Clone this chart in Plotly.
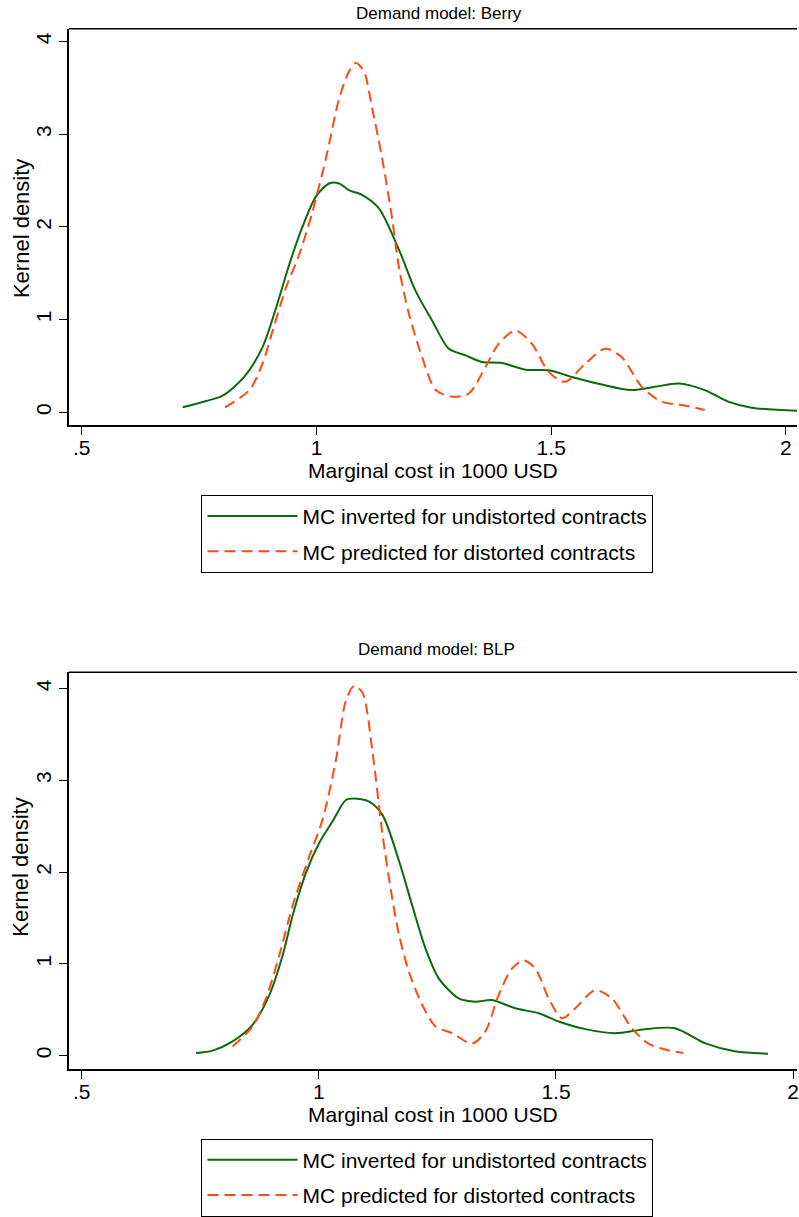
import plotly.graph_objects as go

W, H = 799, 1217

# ---------------- data ----------------
berry_inv_x = [0.715, 0.765, 0.800, 0.846, 0.885, 0.914, 0.942, 0.970, 0.999, 1.027, 1.048,
               1.069, 1.098, 1.133, 1.176, 1.211, 1.2465, 1.282, 1.3175, 1.353, 1.395, 1.445,
               1.4945, 1.544, 1.608, 1.671, 1.721, 1.771, 1.827, 1.877, 1.927, 2.03]
berry_inv_y = [0.054, 0.122, 0.179, 0.382, 0.703, 1.13, 1.595, 2.0, 2.33, 2.469, 2.47,
               2.398, 2.344, 2.20, 1.75, 1.31, 0.989, 0.685, 0.614, 0.543, 0.532, 0.46,
               0.454, 0.382, 0.30, 0.24, 0.275, 0.31, 0.24, 0.115, 0.05, 0.016]

berry_pred_x = [0.805, 0.857, 0.885, 0.9065, 0.935, 0.963, 0.9915, 1.02, 1.048, 1.0695, 1.0837,
                1.101, 1.119, 1.140, 1.161, 1.176, 1.197, 1.225, 1.254, 1.289, 1.3245, 1.36,
                1.388, 1.4237, 1.459, 1.4945, 1.53, 1.5725, 1.615, 1.650, 1.693, 1.735, 1.778, 1.827]
berry_pred_y = [0.054, 0.24, 0.525, 0.88, 1.345, 1.70, 2.166, 2.737, 3.379, 3.68, 3.77,
                3.68, 3.27, 2.737, 2.095, 1.55, 1.06, 0.596, 0.24, 0.168, 0.203, 0.489,
                0.739, 0.882, 0.739, 0.436, 0.329, 0.525, 0.685, 0.596, 0.275, 0.115, 0.079, 0.026]

blp_inv_x = [0.741, 0.776, 0.818, 0.860, 0.8955, 0.9235, 0.9445, 0.9727, 1.0006, 1.0286, 1.0568,
             1.074, 1.106, 1.134, 1.169, 1.197, 1.225, 1.253, 1.295, 1.330, 1.365, 1.414,
             1.4634, 1.5055, 1.5617, 1.6247, 1.688, 1.751, 1.814, 1.877, 1.947]
blp_inv_y = [0.028, 0.054, 0.155, 0.335, 0.659, 1.09, 1.524, 1.992, 2.317, 2.551, 2.785,
             2.803, 2.768, 2.623, 2.12, 1.632, 1.163, 0.839, 0.623, 0.587, 0.605, 0.515,
             0.461, 0.371, 0.288, 0.244, 0.288, 0.298, 0.136, 0.047, 0.021]

blp_pred_x = [0.818, 0.860, 0.8885, 0.9165, 0.9445, 0.98, 1.0076, 1.0358, 1.0568, 1.074, 1.0917,
              1.1127, 1.1337, 1.155, 1.169, 1.19, 1.218, 1.246, 1.281, 1.323, 1.351, 1.379,
              1.407, 1.432, 1.4565, 1.4845, 1.5125, 1.5406, 1.5827, 1.6176, 1.66, 1.695, 1.737, 1.768]
blp_pred_y = [0.10, 0.317, 0.623, 1.092, 1.632, 2.173, 2.569, 3.217, 3.866, 4.028, 3.957,
              3.325, 2.425, 1.704, 1.316, 0.911, 0.551, 0.317, 0.244, 0.13, 0.263, 0.659,
              0.947, 1.038, 0.947, 0.623, 0.407, 0.515, 0.713, 0.623, 0.298, 0.13, 0.057, 0.028]

x_tickvals = [0.5, 1, 1.5, 2]
x_ticktext = [".5", "1", "1.5", "2"]
y_tickvals = [0, 1, 2, 3, 4]
y_ticktext = ["0", "1", "2", "3", "4"]

panel_titles = ["Demand model: Berry", "Demand model: BLP"]
name_inv = "MC inverted for undistorted contracts"
name_pred = "MC predicted for distorted contracts"
x_title = "Marginal cost in 1000 USD"
y_title = "Kernel density"

GREEN = "#0b6a0b"
ORANGE = "#ff4a10"
FONT = "Liberation Sans, Arial, Helvetica, sans-serif"

fig = go.Figure()

fig.add_trace(go.Scatter(x=berry_inv_x, y=berry_inv_y, mode="lines", name=name_inv,
                         line=dict(color=GREEN, width=2, shape="spline", smoothing=0.8),
                         xaxis="x", yaxis="y", legend="legend", legendgroup="a"))
fig.add_trace(go.Scatter(x=berry_pred_x, y=berry_pred_y, mode="lines", name=name_pred,
                         line=dict(color=ORANGE, width=2, dash="11px,6px", shape="spline", smoothing=0.8),
                         xaxis="x", yaxis="y", legend="legend", legendgroup="b"))
fig.add_trace(go.Scatter(x=blp_inv_x, y=blp_inv_y, mode="lines", name=name_inv,
                         line=dict(color=GREEN, width=2, shape="spline", smoothing=0.8),
                         xaxis="x2", yaxis="y2", legend="legend2", legendgroup="c"))
fig.add_trace(go.Scatter(x=blp_pred_x, y=blp_pred_y, mode="lines", name=name_pred,
                         line=dict(color=ORANGE, width=2, dash="11px,6px", shape="spline", smoothing=0.8),
                         xaxis="x2", yaxis="y2", legend="legend2", legendgroup="d"))

def px(v):
    return v / W

def py(v):
    return 1 - v / H

common_x = dict(tickmode="array", tickvals=x_tickvals, ticktext=x_ticktext,
                showline=True, linecolor="black", linewidth=1.5, mirror=False,
                ticks="outside", ticklen=8, tickwidth=1, tickcolor="black",
                showgrid=False, zeroline=False, ticklabeloverflow="allow",
                ticklabelstandoff=-5,
                tickfont=dict(size=21, color="black", family=FONT),
                title=dict(text=x_title, font=dict(size=21, color="black", family=FONT), standoff=0))
common_y = dict(tickmode="array", tickvals=y_tickvals, ticktext=y_ticktext,
                showline=True, linecolor="black", linewidth=1.5, mirror=False,
                ticks="outside", ticklen=8, tickwidth=1, tickcolor="black",
                showgrid=False, zeroline=False, tickangle=-90,
                tickfont=dict(size=21, color="black", family=FONT))

legend_common = dict(xanchor="left", yanchor="top",
                     bordercolor="black", borderwidth=1, bgcolor="white",
                     font=dict(size=21, color="black", family=FONT), itemwidth=90,
                     tracegroupgap=5)

fig.update_layout(
    width=W, height=H,
    margin=dict(l=0, r=0, t=0, b=0),
    paper_bgcolor="white", plot_bgcolor="white",
    font=dict(family=FONT, color="black"),
    xaxis=dict(domain=[px(69), 1], range=[0.4724, 2.0236], anchor="y", **common_x),
    yaxis=dict(domain=[py(429), py(29)], range=[-0.142, 4.139], anchor="x", **common_y),
    xaxis2=dict(domain=[px(69), 1], range=[0.4727, 2.0082], anchor="y2", **common_x),
    yaxis2=dict(domain=[py(1078), py(677.7)], range=[-0.148, 4.179], anchor="x2", **common_y),
    legend=dict(x=px(202), y=py(499), **legend_common),
    legend2=dict(x=px(202), y=py(1148), **legend_common),
    showlegend=True,
)

# top border of each plot region
for xr, yr in (("x", "y"), ("x2", "y2")):
    fig.add_shape(type="line", xref=f"{xr} domain", yref=f"{yr} domain",
                  x0=0, x1=1, y0=1, y1=1, line=dict(color="black", width=1.5))

# y axis titles (rotated)
for ycen in (230, 874):
    fig.add_annotation(text=y_title, xref="paper", yref="paper", x=px(21), y=py(ycen),
                       xanchor="center", yanchor="middle", textangle=-90,
                       showarrow=False, font=dict(size=22, color="black", family=FONT))

# panel titles
fig.add_annotation(text=panel_titles[0], xref="paper", yref="paper", x=px(440), y=py(14),
                   xanchor="center", yanchor="middle",
                   showarrow=False, font=dict(size=17, color="black", family=FONT))
fig.add_annotation(text=panel_titles[1], xref="paper", yref="paper", x=px(438), y=py(655),
                   xanchor="center", yanchor="middle",
                   showarrow=False, font=dict(size=17, color="black", family=FONT))

fig.write_html("out.html")
